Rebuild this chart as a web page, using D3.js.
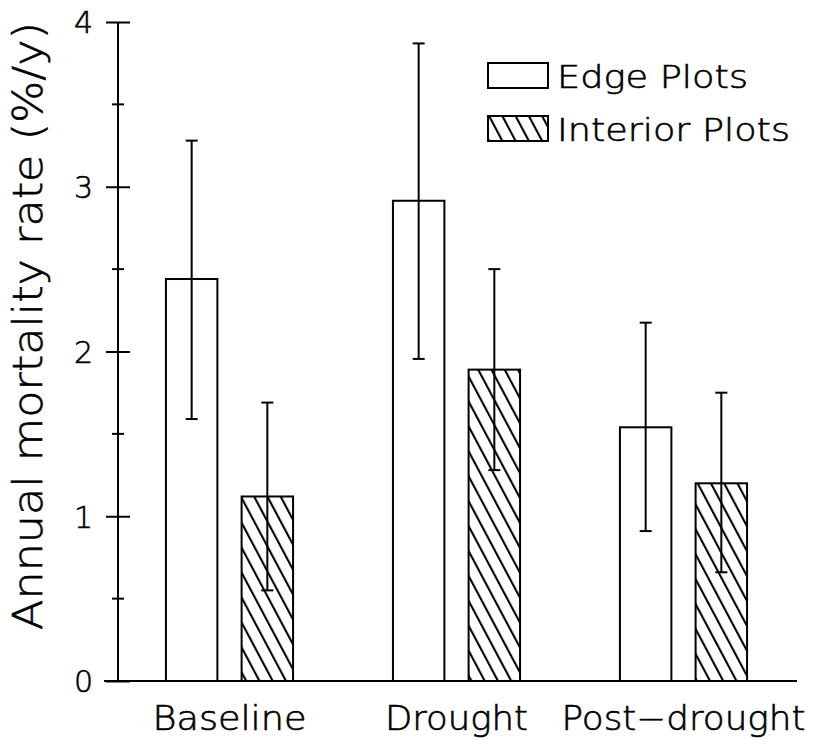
<!DOCTYPE html>
<html><head><meta charset="utf-8">
<script src="https://cdn.jsdelivr.net/npm/d3@7"></script>
<style>body{margin:0;background:#fff}svg{display:block}text{font-family:"DejaVu Sans",sans-serif;font-weight:200;fill:#000;stroke:#000;stroke-width:0.6px}</style>
</head><body>
<script>
const categories = ["Baseline", "Drought", "Post\u2212drought"];
const series = ["Edge Plots", "Interior Plots"];
const edgeValues = [2.44, 2.915, 1.54];
const edgeLow = [1.59, 1.955, 0.91];
const edgeHigh = [3.28, 3.87, 2.175];
const interiorValues = [1.12, 1.89, 1.20];
const interiorLow = [0.55, 1.28, 0.66];
const interiorHigh = [1.69, 2.50, 1.75];
const yTicks = [0, 1, 2, 3, 4];
const yMinorTicks = [0.5, 1.5, 2.5, 3.5];

const W = 821, H = 745;
const svg = d3.select("body").append("svg").attr("width", W).attr("height", H);

const y = d3.scaleLinear().domain([0, 4]).range([681, 22]);
const x = d3.scaleBand().domain(categories).range([116, 797]).paddingInner(0.44).paddingOuter(0.22);
const xs = d3.scaleBand().domain(series).range([0, x.bandwidth()]).paddingInner(0.32).paddingOuter(0);

const defs = svg.append("defs");
const pat = defs.append("pattern").attr("id", "hatch").attr("patternUnits", "userSpaceOnUse")
  .attr("width", 11.7).attr("height", 20).attr("patternTransform", "rotate(-28)");
pat.append("rect").attr("width", 11.7).attr("height", 20).attr("fill", "#fff");
pat.append("line").attr("x1", 3).attr("x2", 3).attr("y1", -2).attr("y2", 22).attr("stroke", "#000").attr("stroke-width", 2.1);

const rows = [];
categories.forEach((c, i) => {
  rows.push({cat: c, s: series[0], v: edgeValues[i], lo: edgeLow[i], hi: edgeHigh[i]});
  rows.push({cat: c, s: series[1], v: interiorValues[i], lo: interiorLow[i], hi: interiorHigh[i]});
});

const g = svg.append("g");
g.selectAll("rect.bar").data(rows).join("rect").attr("class", "bar")
  .attr("x", d => x(d.cat) + xs(d.s))
  .attr("width", xs.bandwidth())
  .attr("y", d => y(d.v))
  .attr("height", d => y(0) - y(d.v))
  .attr("fill", d => d.s === series[0] ? "#fff" : "url(#hatch)")
  .attr("stroke", "#000").attr("stroke-width", 2);

// error bars
const cx = d => x(d.cat) + xs(d.s) + xs.bandwidth() / 2;
g.selectAll("line.err").data(rows).join("line").attr("class", "err")
  .attr("x1", cx).attr("x2", cx).attr("y1", d => y(d.lo)).attr("y2", d => y(d.hi))
  .attr("stroke", "#000").attr("stroke-width", 2);
["lo", "hi"].forEach(k => {
  g.selectAll("line.cap" + k).data(rows).join("line").attr("class", "cap" + k)
    .attr("x1", d => cx(d) - 6).attr("x2", d => cx(d) + 6)
    .attr("y1", d => y(d[k])).attr("y2", d => y(d[k]))
    .attr("stroke", "#000").attr("stroke-width", 2);
});

// y axis
const yAxis = svg.append("g").attr("transform", "translate(118,0)")
  .call(d3.axisLeft(y).tickValues(yTicks).tickFormat(d3.format("d")).tickSize(12).tickPadding(13));
yAxis.select(".domain").remove();
yAxis.selectAll(".tick line").attr("x1", 12).attr("x2", -12).attr("stroke", "#000").attr("stroke-width", 2);
yAxis.selectAll(".tick text").attr("font-size", 30).attr("font-family", null).attr("fill", null).attr("dy", "0.36em");
yAxis.selectAll("line.minor").data(yMinorTicks).join("line").attr("class", "minor")
  .attr("x1", -6).attr("x2", 6).attr("y1", d => y(d)).attr("y2", d => y(d))
  .attr("stroke", "#000").attr("stroke-width", 2);
yAxis.append("line").attr("x1", 0).attr("x2", 0).attr("y1", y(0)).attr("y2", y(4))
  .attr("stroke", "#000").attr("stroke-width", 2);

// x axis
svg.append("line").attr("x1", 104).attr("x2", 797).attr("y1", y(0)).attr("y2", y(0))
  .attr("stroke", "#000").attr("stroke-width", 2);
const xLabelWidths = [154, 143, 244];
svg.selectAll("text.xl").data(categories).join("text").attr("class", "xl")
  .attr("x", d => x(d) + x.bandwidth() / 2).attr("y", 730)
  .attr("text-anchor", "middle").attr("font-size", 33)
  .attr("textLength", (d, i) => xLabelWidths[i]).attr("lengthAdjust", "spacingAndGlyphs")
  .text(d => d);

// y title
svg.append("text").attr("transform", "translate(42,326) rotate(-90)")
  .attr("text-anchor", "middle").attr("font-size", 40)
  .attr("textLength", 608).attr("lengthAdjust", "spacingAndGlyphs")
  .text("Annual mortality rate (%/y)");

// legend
const leg = svg.append("g");
const legWidths = [191, 233];
series.forEach((s, i) => {
  const yy = 63 + i * 53;
  leg.append("rect").attr("x", 488).attr("y", yy).attr("width", 60).attr("height", 25)
    .attr("fill", i === 0 ? "#fff" : "url(#hatch)").attr("stroke", "#000").attr("stroke-width", 2);
  leg.append("text").attr("x", 557).attr("y", yy + 25).attr("font-size", 32)
    .attr("textLength", legWidths[i]).attr("lengthAdjust", "spacingAndGlyphs").text(s);
});
</script>
</body></html>
